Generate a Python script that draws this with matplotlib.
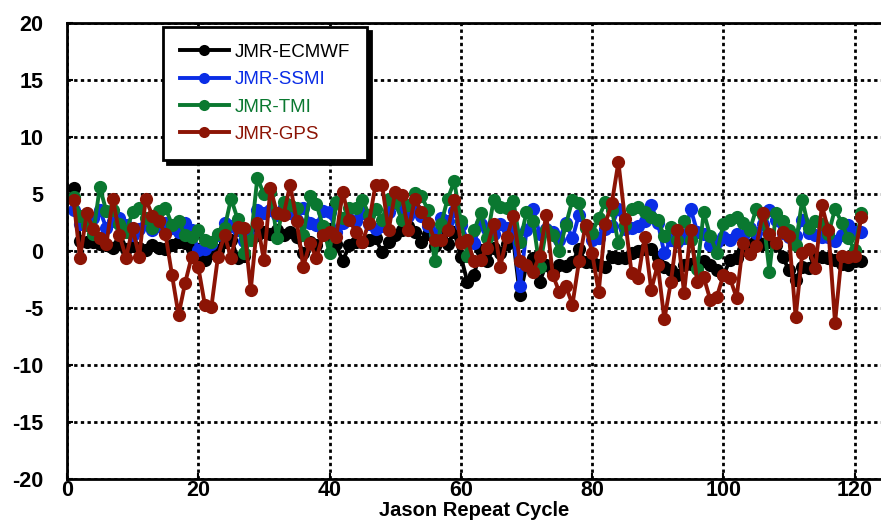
import numpy as np
import matplotlib.pyplot as plt

cycles = np.arange(1, 122)

ecmwf = [5.5, 0.9, 0.8, 0.8, 0.6, 0.5, 0.3, 0.6, 0.2, 0.4,
         0.3, 0.1, 0.5, 0.3, 0.2, 0.5, 0.8, 0.7, 0.2, -0.5,
         -0.8, -0.2, 0.1, 0.8, 1.0, -0.6, -0.4, 1.7, 1.4, 1.7,
         1.5, 1.8, 1.4, 1.7, 1.2, -0.2, 0.8, 0.5, 1.5, 1.2,
         0.6, -0.9, 0.5, 0.8, 0.8, 1.0, 1.1, -0.1, 0.8, 1.4,
         1.8, 2.2, 1.7, 0.8, 1.5, 0.4, 1.2, 0.6, 1.7, -0.5,
         -2.7, -2.1, 0.1, -0.9, 0.3, -0.2, 0.6, 0.9, -3.9, -1.2,
         -0.6, -2.7, -1.2, -1.8, -1.2, -1.3, -1.0, 0.2, -1.0, -1.0,
         -1.2, -1.4, -0.5, -0.6, -0.6, -0.2, 0.0, 0.2, 0.2, -0.5,
         -1.4, -1.7, -2.1, -1.2, -1.1, -1.2, -0.9, -1.2, -1.7, -2.1,
         -0.8, -0.6, 0.1, 0.5, 1.0, 0.6, 0.8, 0.5, -0.5, -1.7,
         -2.5, -1.4, -1.5, -0.5, -0.5, -0.6, -0.8, -1.1, -1.2, -0.9,
         -0.9]

ssmi = [3.6, 2.4, 3.0, 2.9, 3.6, 2.0, 2.6, 2.9, 2.3, 1.4,
        1.9, 2.4, 1.8, 2.2, 2.5, 2.0, 1.7, 2.5, 1.8, 0.1,
        0.2, 0.6, 1.4, 2.5, 2.2, 1.8, 0.9, 1.2, 3.6, 3.3,
        3.6, 3.2, 3.9, 3.3, 2.7, 3.8, 2.5, 2.3, 3.5, 3.4,
        1.7, 2.5, 2.8, 2.6, 3.3, 2.4, 1.9, 2.2, 3.4, 4.2,
        3.8, 3.1, 3.7, 3.1, 2.2, 1.5, 2.9, 2.6, 3.5, 2.3,
        1.0, 0.7, 2.4, 1.9, 1.5, 2.4, 2.0, 1.5, -3.1, 1.8,
        3.7, 1.5, 1.9, 1.7, 1.0, 2.5, 1.1, 3.2, 2.1, 1.0,
        1.1, 1.9, 2.2, 3.7, 1.9, 2.0, 2.2, 2.6, 4.0, 2.5,
        -0.2, 1.0, 0.8, 1.1, 3.7, 1.7, 1.5, 0.5, 0.8, 1.2,
        1.0, 1.5, 1.3, 2.0, 1.6, 2.4, 3.6, 2.7, 1.6, 1.2,
        1.3, 2.7, 1.6, 1.4, 1.2, 1.2, 0.9, 1.4, 2.3, 1.7,
        1.7]

tmi = [4.7, 3.1, 2.3, 1.5, 5.6, 3.5, 3.6, 2.4, 1.7, 3.4,
       3.8, 2.9, 2.0, 3.5, 3.8, 2.3, 2.6, 1.4, 1.2, 1.8,
       1.0, 0.8, 1.5, 2.0, 4.6, 2.8, -0.2, 1.0, 6.4, 5.0,
       5.2, 1.1, 4.3, 4.0, 3.8, 1.4, 4.8, 4.1, 2.2, -0.2,
       4.3, 2.9, 3.8, 3.8, 4.5, 3.2, 3.7, 2.7, 4.6, 4.3,
       2.7, 4.0, 5.1, 4.8, 3.6, -0.9, 2.4, 4.6, 6.1, 2.6,
       -0.4, 1.8, 3.3, 1.1, 4.5, 3.9, 3.8, 4.4, 0.8, 3.4,
       2.6, -1.4, 1.8, 1.4, 0.0, 2.3, 4.5, 4.2, 2.0, 1.6,
       2.9, 4.3, 3.6, 0.7, 2.3, 3.7, 3.9, 3.4, 3.0, 2.7,
       1.3, 2.1, 1.0, 2.6, 1.0, -1.6, 3.4, 1.3, -0.2, 2.4,
       2.7, 3.0, 2.5, 1.8, 3.7, 3.2, -1.8, 3.3, 2.6, 1.8,
       0.5, 4.5, 2.0, 2.6, 2.4, 1.5, 3.7, 2.5, 1.1, 0.1,
       3.3]

gps = [4.5, -0.6, 3.3, 1.9, 1.1, 0.6, 4.6, 1.4, -0.6, 2.0,
       -0.5, 4.6, 3.1, 2.6, 1.5, -2.1, -5.6, -2.8, -0.5, -1.4,
       -4.7, -4.9, -0.5, 1.4, -0.6, 2.1, 2.0, -3.4, 2.5, -0.8,
       5.5, 3.3, 3.2, 5.8, 2.6, -1.4, 0.7, -0.6, 1.4, 1.7,
       1.2, 5.2, 2.7, 1.7, 0.8, 2.5, 5.8, 5.8, 1.8, 5.2,
       4.9, 1.8, 4.6, 3.4, 2.5, 1.0, 1.0, 1.8, 4.5, 0.7,
       1.0, -0.9, -0.8, 0.3, 2.4, -1.4, 1.2, 3.1, -0.9, -1.2,
       -1.8, -0.4, 3.2, -2.1, -3.6, -3.1, -4.7, -0.9, 2.3, -0.2,
       -3.6, 2.4, 4.2, 7.8, 2.8, -1.9, -2.4, 1.2, -3.4, -1.2,
       -6.0, -2.7, 1.8, -3.7, 1.8, -2.7, -2.3, -4.3, -4.0, -2.1,
       -2.4, -4.1, 0.7, -0.3, 0.4, 3.3, 1.5, 0.7, 1.7, 1.3,
       -5.8, -0.2, 0.2, -1.5, 4.0, 1.8, -6.3, -0.4, -0.5, -0.4,
       3.0]

labels = ["JMR-ECMWF", "JMR-SSMI", "JMR-TMI", "JMR-GPS"]
colors = ["#000000", "#0a2de6", "#0a7830", "#8c1405"]

plt.rcParams['font.family'] = ['Liberation Sans Narrow', 'Liberation Sans', 'DejaVu Sans']
plt.rcParams['axes.unicode_minus'] = False

fig = plt.figure(figsize=(8.81, 5.29), dpi=100)
ax = fig.add_axes([0.076, 0.0945, 0.924, 0.862])

for vals, lab, col in zip([ecmwf, ssmi, tmi, gps], labels, colors):
    ax.plot(cycles, vals, color=col, lw=2.8, marker='o', ms=9.5,
            markeredgewidth=0, label=lab)

ax.set_xlim(0, 124)
ax.set_ylim(-20, 20)
ax.set_xticks(np.arange(0, 121, 20))
ax.set_yticks(np.arange(-20, 21, 5))
ax.grid(True, color='black', linestyle=(0, (1.2, 1.2)), linewidth=2)
ax.tick_params(direction='in', length=4, width=1.5, labelsize=15.5, pad=1)
for lbl in ax.get_xticklabels() + ax.get_yticklabels():
    lbl.set_fontweight('bold')
ax.yaxis.set_tick_params(pad=17)
ax.set_xlabel("Jason Repeat Cycle", fontsize=14.5, fontweight='bold', labelpad=0)

for side in ['left', 'top', 'bottom']:
    ax.spines[side].set_linewidth(2)
ax.spines['right'].set_visible(False)

leg = ax.legend(loc='upper left', bbox_to_anchor=(0.118, 0.992), borderaxespad=0,
                fancybox=False, shadow={'color': 'black', 'alpha': 1, 'ox': 3, 'oy': -3},
                edgecolor='black', fontsize=13.5, handlelength=2.6,
                handletextpad=0.3, labelspacing=0.55, borderpad=0.9,
                framealpha=1)
leg.get_frame().set_linewidth(2)
for txt, col in zip(leg.get_texts(), colors):
    txt.set_color(col)
for h in leg.legend_handles:
    h.set_markersize(8)

fig.savefig('out.png', dpi=100)
